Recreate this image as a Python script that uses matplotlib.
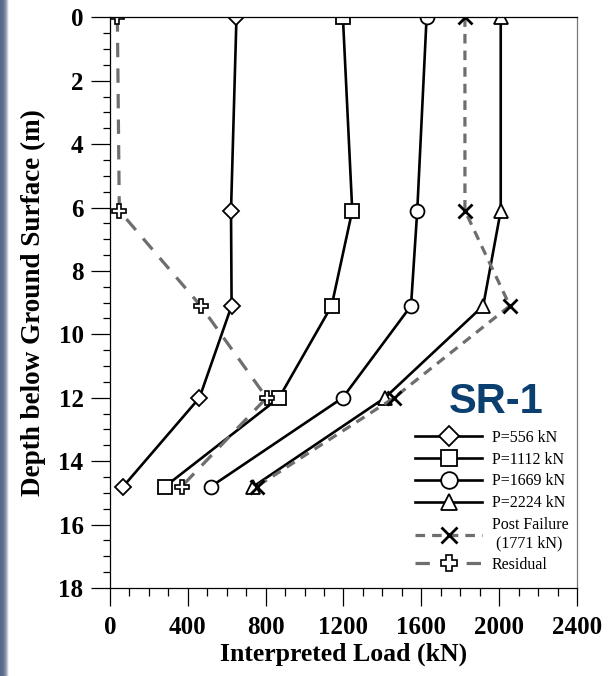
#Depth profile of interpreted load, SR-1
import numpy as np
import matplotlib.pyplot as plt
from matplotlib.colors import LinearSegmentedColormap

plt.rcParams['font.family'] = ['Liberation Serif', 'DejaVu Serif']

#data
depth = [0, 6.1, 9.1, 12.0, 14.8]
p556 = [650, 622, 625, 460, 68]
p1112 = [1197, 1245, 1139, 869, 283]
p1669 = [1627, 1579, 1547, 1196, 519]
p2224 = [2008, 2008, 1918, 1413, 737]
post_fail = [1824, 1824, 2055, 1460, 754]
residual = [38, 48, 466, 805, 368]

labels = ['P=556 kN', 'P=1112 kN', 'P=1669 kN', 'P=2224 kN',
          'Post Failure\n (1771 kN)', 'Residual']

fig = plt.figure(figsize=(6.13, 6.76), dpi=100)

#slide background strip on the left
bg = fig.add_axes([0, 0, 0.014, 1])
cmap = LinearSegmentedColormap.from_list('strip', ['#56678a', '#5f6f90', '#8a97b0', '#ffffff'])
bg.imshow(np.linspace(0, 1, 50).reshape(1, -1), aspect='auto', cmap=cmap,
          extent=[0, 1, 0, 1])
bg.axis('off')

ax = fig.add_axes([0.1794, 0.1302, 0.7619, 0.8442])

blk = dict(color='black', lw=1.9, markersize=10, markerfacecolor='white',
           markeredgecolor='black', markeredgewidth=1.3)
ax.plot(p556, depth, marker='D', label=labels[0], **dict(blk, markersize=8.5))
ax.plot(p1112, depth, marker='s', label=labels[1], **blk)
ax.plot(p1669, depth, marker='o', label=labels[2], **blk)
ax.plot(p2224, depth, marker='^', label=labels[3], **blk)
ax.plot(post_fail, depth, color='#6e6e6e', lw=2.3, dashes=(3, 2.2),
        marker='x', markersize=10, markeredgecolor='black', markeredgewidth=2,
        label=labels[4])
ax.plot(residual, depth, color='#6e6e6e', lw=2.3, dashes=(4.5, 3.5),
        marker='P', markersize=9.5, markerfacecolor='white',
        markeredgecolor='black', markeredgewidth=1.2, label=labels[5])

ax.set_xlim(0, 2400)
ax.set_ylim(18, 0)
ax.set_xticks(np.arange(0, 2401, 400))
ax.set_xticks(np.arange(0, 2401, 100), minor=True)
ax.set_yticks(np.arange(0, 19, 2))
ax.set_yticks(np.arange(0, 18.1, 0.5), minor=True)

ax.tick_params(axis='y', which='major', direction='out', length=14, width=0.9, pad=5,
               labelsize=18)
ax.tick_params(axis='y', which='minor', direction='out', length=5, width=0.9)
ax.tick_params(axis='x', which='major', direction='out', length=13, width=0.9, pad=7,
               labelsize=18)
ax.tick_params(axis='x', which='minor', direction='out', length=6, width=0.9)
for t in ax.get_xticklabels() + ax.get_yticklabels():
    t.set_fontweight('bold')

ax.spines['right'].set_color('#777777')
for s in ax.spines.values():
    s.set_linewidth(0.9)

ax.set_xlabel('Interpreted Load (kN)', fontsize=18.5, fontweight='bold', labelpad=3)
ax.set_ylabel('Depth below Ground Surface (m)', fontsize=19.5, fontweight='bold',
              labelpad=9)

fig.text(0.81, 0.405, 'SR-1', fontsize=30, fontweight='bold', color='#0b3f70',
         family='Liberation Sans', ha='center', va='center')

ax.legend(loc='upper left', bbox_to_anchor=(0.677, 0.364), bbox_transform=fig.transFigure,
          frameon=False, fontsize=11.5, handlelength=4.2, handletextpad=0.6,
          labelspacing=0.36, markerscale=1.2, borderaxespad=0, borderpad=0)

plt.savefig('out.png', dpi=100)
